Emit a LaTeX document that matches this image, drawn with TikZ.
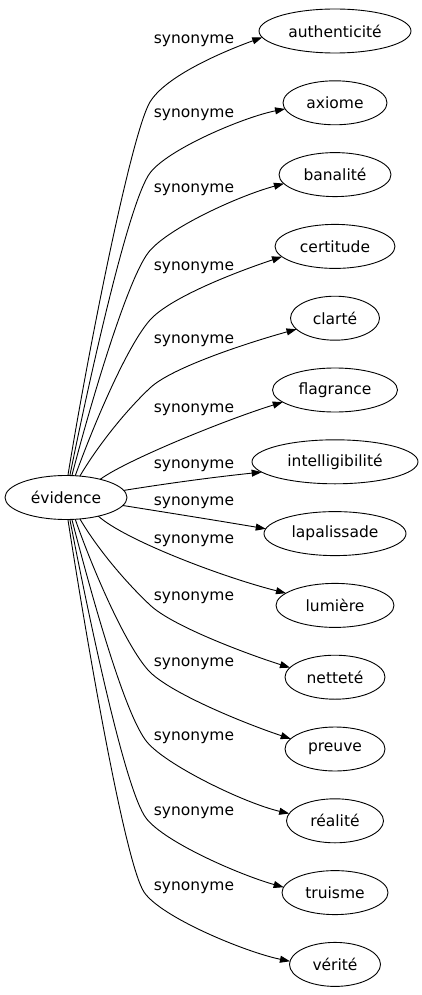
\documentclass[tikz,border=0pt]{standalone}
\usepackage{fontspec}
\setmainfont{DejaVu Sans}
\usetikzlibrary{shapes.geometric,arrows.meta}
\begin{document}
\begin{tikzpicture}[x=1pt,y=-1pt,
  word/.style={ellipse,draw,line width=0.9pt,inner sep=0pt,outer sep=0pt,
    minimum height=44pt,font=\fontsize{15.5}{18}\selectfont},
  lbl/.style={font=\fontsize{15.5}{18}\selectfont,inner sep=0pt},
  syn/.style={line width=0.9pt,-{Triangle[length=10pt,width=7pt]}}]
\useasboundingbox (0,0) rectangle (422,995);

\node[word,minimum width=122pt] (ev) at (66,497.5) {évidence};

\node[word,minimum width=152pt] (n1) at (335,31) {authenticité};
\node[word,minimum width=104pt] (n2) at (335,102.8) {axiome};
\node[word,minimum width=112pt] (n3) at (335,174.6) {banalité};
\node[word,minimum width=120pt] (n4) at (335,246.4) {certitude};
\node[word,minimum width=89pt] (n5) at (335,318.2) {clarté};
\node[word,minimum width=125pt] (n6) at (335,390) {flagrance};
\node[word,minimum width=166pt] (n7) at (335,461.8) {intelligibilité};
\node[word,minimum width=142pt] (n8) at (335,533.6) {lapalissade};
\node[word,minimum width=118pt] (n9) at (335,605.4) {lumière};
\node[word,minimum width=100pt] (n10) at (335,677.2) {netteté};
\node[word,minimum width=100pt] (n11) at (335,749) {preuve};
\node[word,minimum width=97pt] (n12) at (335,820.8) {réalité};
\node[word,minimum width=106pt] (n13) at (335,892.6) {truisme};
\node[word,minimum width=91pt] (n14) at (335,964.4) {vérité};

\node[lbl] (l1) at (194,41) {synonyme};
\node[lbl] (l2) at (194,115) {synonyme};
\node[lbl] (l3) at (194,190) {synonyme};
\node[lbl] (l4) at (194,268) {synonyme};
\node[lbl] (l5) at (194,341) {synonyme};
\node[lbl] (l6) at (194,410) {synonyme};
\node[lbl] (l7) at (194,466) {synonyme};
\node[lbl] (l8) at (194,503) {synonyme};
\node[lbl] (l9) at (194,541) {synonyme};
\node[lbl] (l10) at (194,598) {synonyme};
\node[lbl] (l11) at (194,664) {synonyme};
\node[lbl] (l12) at (194,738) {synonyme};
\node[lbl] (l13) at (194,813) {synonyme};
\node[lbl] (l14) at (194,888) {synonyme};

\draw[syn] (ev.85) .. controls (90,340) and (132,132) .. (150,102)
  .. controls (165.6,76.2) and (222,52) .. (n1.185);
\draw[syn] (ev.80) .. controls (90,376) and (129,201) .. (150,173)
  .. controls (168,149) and (244,117) .. (n2.187);
\draw[syn] (ev.75) .. controls (91,402) and (127,281) .. (148,253)
  .. controls (166,229) and (238,196) .. (n3.190);
\draw[syn] (ev.67.5) .. controls (94,424) and (127,346) .. (150,320)
  .. controls (170,297.5) and (236,272) .. (n4.191);
\draw[syn] (ev.57) .. controls (97,447) and (124.5,412) .. (150,388)
  .. controls (172,367) and (252,341.5) .. (n5.196);
\draw[syn] (ev.28) .. controls (125,461) and (222,421) .. (n6.193);
\draw[syn] (ev.7) .. controls (170,483) and (215,477) .. (n7.188);
\draw[syn] (ev.-8) .. controls (170,513) and (220,521) .. (n8.176);
\draw[syn] (ev.-30) .. controls (125,540) and (222,577) .. (n9.166);
\draw[syn] (ev.-57) .. controls (97,548) and (124.5,581) .. (150,605)
  .. controls (172,626) and (247,654) .. (n10.168);
\draw[syn] (ev.-67.5) .. controls (93,570) and (125,644) .. (148,670)
  .. controls (168,692.5) and (246,724) .. (n11.167);
\draw[syn] (ev.-75) .. controls (91,593) and (124.6,715) .. (147,742)
  .. controls (166,765) and (244,803) .. (n12.171);
\draw[syn] (ev.-80) .. controls (89,618) and (125,790) .. (146,818)
  .. controls (164,842) and (240,875) .. (n13.174);
\draw[syn] (ev.-85) .. controls (87,643) and (125,863) .. (144,892)
  .. controls (160.5,917) and (245,952) .. (n14.176);
\end{tikzpicture}
\end{document}
